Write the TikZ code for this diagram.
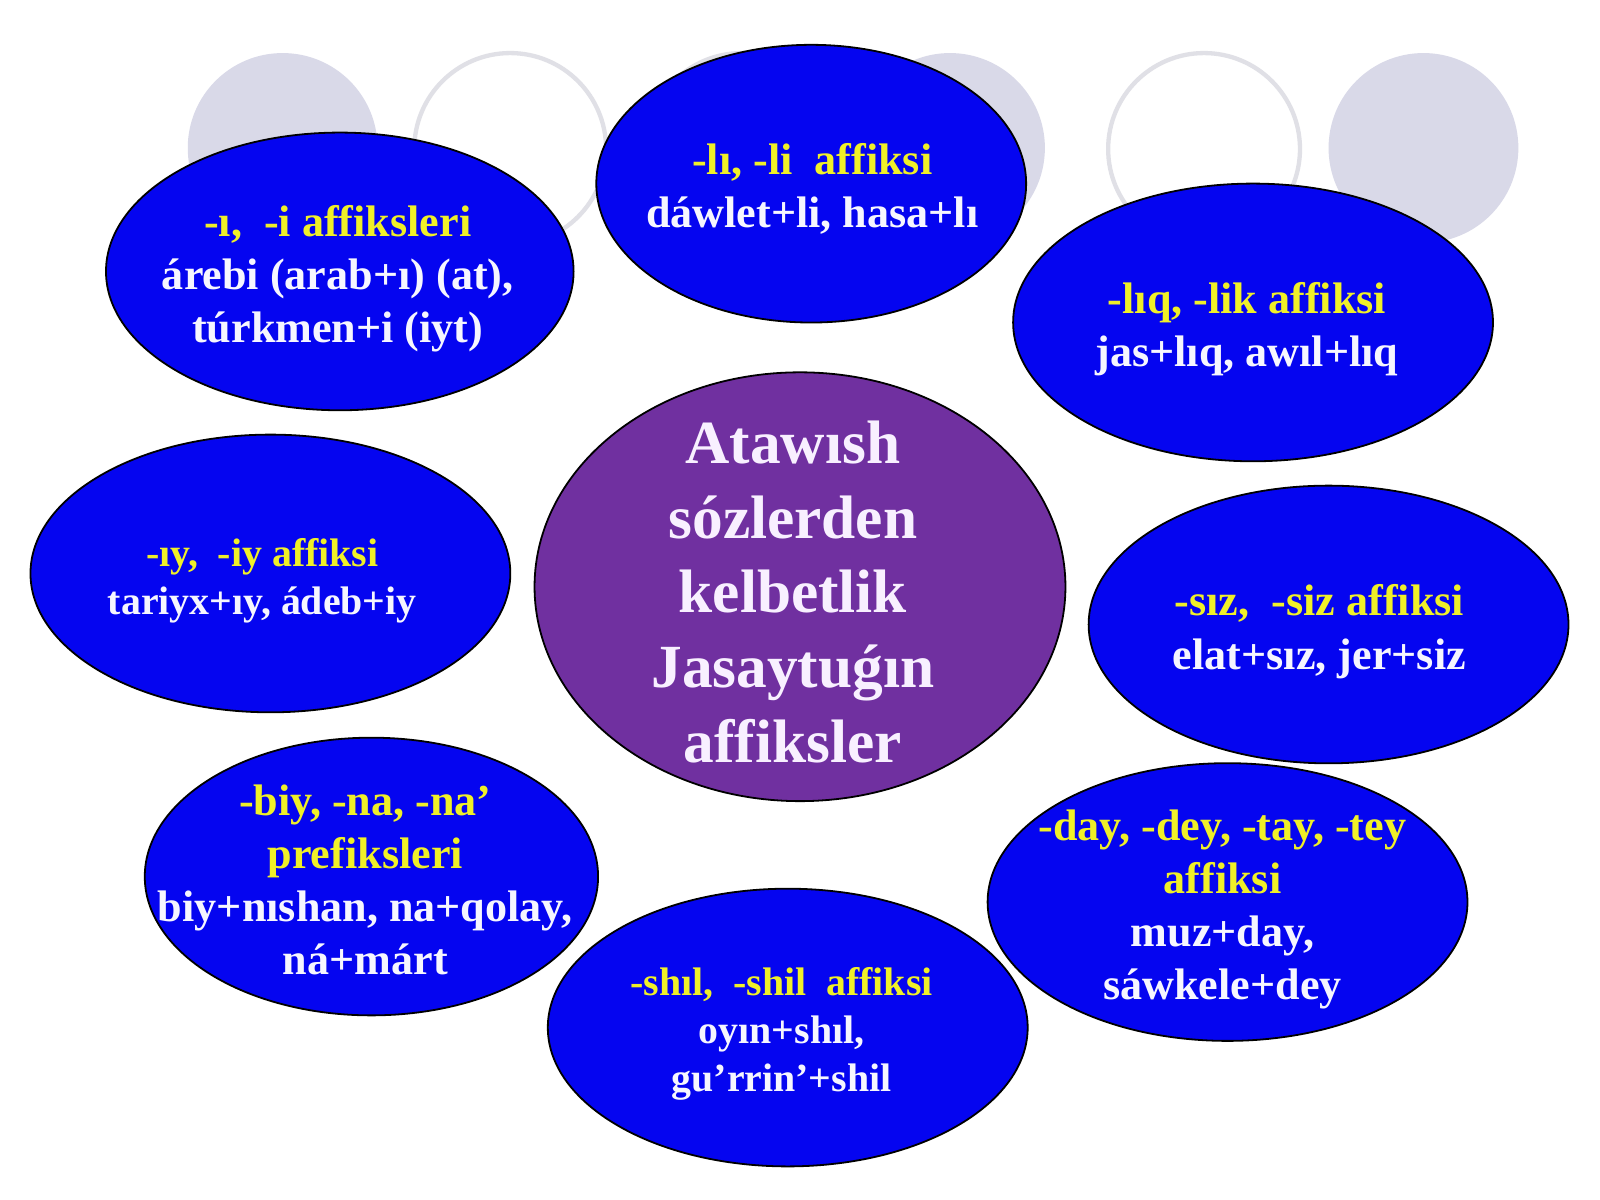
\documentclass[tikz,border=0pt]{standalone}
\usepackage{fontspec}
\setmainfont{Liberation Serif}
\usetikzlibrary{shapes.geometric}
\definecolor{bubbleblue}{RGB}{5,5,240}
\definecolor{hubpurple}{RGB}{112,48,160}
\definecolor{affixyellow}{RGB}{240,240,40}
\definecolor{examplewhite}{RGB}{246,246,255}
\definecolor{hubwhite}{RGB}{248,240,255}
\definecolor{dotgrey}{RGB}{217,217,232}
\definecolor{ringgrey}{RGB}{224,224,230}
\tikzset{
    bubble/.style={ellipse, draw=black, line width=0.5pt, fill=bubbleblue, inner sep=0pt},
    bubbletext/.style={align=center, text=examplewhite, inner sep=0pt,
        font=\bfseries\fontsize{12.3}{14.8}\selectfont},
    smalltext/.style={bubbletext, font=\bfseries\fontsize{11.1}{13.4}\selectfont},
    hub/.style={ellipse, draw=black, line width=0.5pt, fill=hubpurple, inner sep=0pt},
    hubtext/.style={align=center, text=hubwhite, inner sep=0pt,
        font=\bfseries\fontsize{17.1}{20.8}\selectfont}
}
\newcommand{\affix}[1]{\textcolor{affixyellow}{#1}}
\begin{document}
\begin{tikzpicture}[x=0.01cm, y=-0.01cm]
    \useasboundingbox[fill=white] (0,0) rectangle (1568,1176);
    % Background circles
    \foreach \cx in {277,931,1395} {
            \fill[dotgrey] (\cx,145) circle (93);
        }
    \foreach \cx in {500,727,1180} {
            \draw[ringgrey, line width=1.2pt] (\cx,146) circle (94);
        }
    % Centre ellipse
    \node[hub, minimum width=5.20cm, minimum height=4.20cm] (hub) at (784,575) {};
    \node[hubtext] (hubT) at (777,580) {Atawısh\\sózlerden\\kelbetlik\\Jasaytuǵın\\affiksler};
    % Affix ellipses
    \node[bubble, minimum width=4.58cm, minimum height=2.72cm] (iE) at (333,266) {};
    \node[bubbletext] (iT) at (331,273) {\affix{-ı,\ \ -i affiksleri}\\árebi (arab+ı) (at),\\túrkmen+i (iyt)};
    \node[bubble, minimum width=4.21cm, minimum height=2.72cm] (liE) at (795,180) {};
    \node[bubbletext] (liT) at (796,185) {\affix{-lı, -li\ \ affiksi}\\dáwlet+li, hasa+lı};
    \node[bubble, minimum width=4.70cm, minimum height=2.72cm] (liqE) at (1228,316) {};
    \node[bubbletext] (liqT) at (1222,323) {\affix{-lıq, -lik affiksi}\\jas+lıq, awıl+lıq};
    \node[bubble, minimum width=4.70cm, minimum height=2.72cm] (iyE) at (265,562) {};
    \node[smalltext] (iyT) at (257,569) {\affix{-ıy,\ \ -iy affiksi}\\tariyx+ıy, ádeb+iy};
    \node[bubble, minimum width=4.70cm, minimum height=2.72cm] (sizE) at (1302,612) {};
    \node[bubbletext] (sizT) at (1293,619) {\affix{-sız,\ \ -siz affiksi}\\elat+sız, jer+siz};
    \node[bubble, minimum width=4.44cm, minimum height=2.72cm] (biyE) at (364,859) {};
    \node[bubbletext] (biyT) at (358,862) {\affix{-biy, -na, -na’}\\\affix{prefiksleri}\\biy+nıshan, na+qolay,\\ná+márt};
    \node[bubble, minimum width=4.70cm, minimum height=2.72cm] (shilE) at (772,1007) {};
    \node[smalltext] (shilT) at (766,1013) {\affix{-shıl,\ \ -shil\ \ affiksi}\\oyın+shıl,\\gu’rrin’+shil};
    \node[bubble, minimum width=4.70cm, minimum height=2.72cm] (dayE) at (1203,884) {};
    \node[bubbletext] (dayT) at (1198,891) {\affix{-day, -dey, -tay, -tey}\\\affix{affiksi}\\muz+day,\\sáwkele+dey};
\end{tikzpicture}
\end{document}
